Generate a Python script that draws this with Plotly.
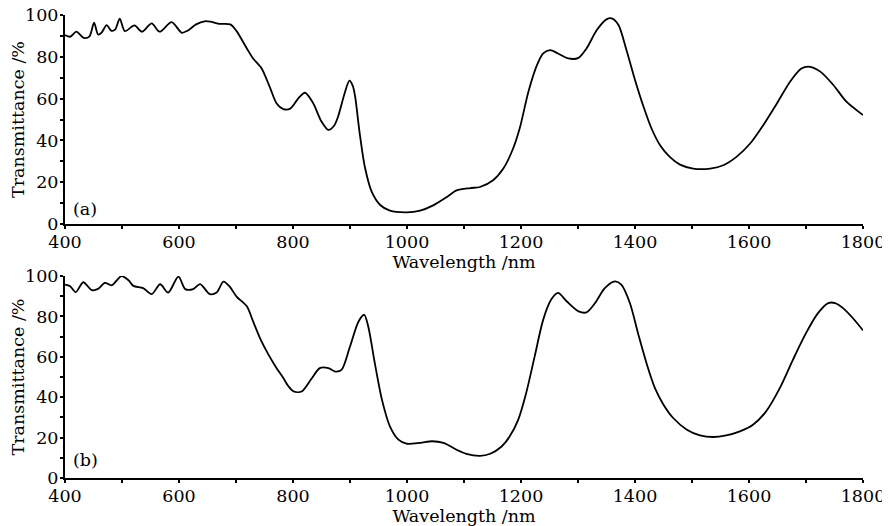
import plotly.graph_objects as go

# Panel (a)
wl_a = [400, 409, 420, 433, 443, 451, 458, 464, 473, 481, 488, 496, 505, 522, 535, 552, 566, 587, 605,
        615, 630, 645, 655, 670, 690, 701, 719, 730, 745, 760, 771, 783, 795, 809, 821, 835, 850, 862,
        872, 879, 890, 899, 905, 909, 917, 926, 938, 953, 970, 999, 1023, 1046, 1070, 1087, 1111, 1128,
        1151, 1169, 1186, 1198, 1213, 1228, 1239, 1251, 1265, 1283, 1301, 1315, 1333, 1350, 1359, 1371,
        1385, 1400, 1415, 1429, 1444, 1461, 1479, 1502, 1532, 1555, 1578, 1602, 1625, 1649, 1672, 1692,
        1707, 1725, 1748, 1771, 1800]
tr_a = [90.4, 89.6, 92.0, 89.0, 89.8, 96.3, 90.7, 91.5, 95.2, 92.5, 93.0, 98.2, 92.3, 95.0, 92.0, 96.0,
        92.0, 96.6, 91.5, 92.5, 95.5, 97.0, 96.8, 95.8, 95.5, 92.3, 84.0, 79.2, 74.4, 65.0, 57.8, 55.0,
        55.2, 60.0, 62.8, 58.0, 49.0, 45.0, 47.0, 51.3, 62.0, 68.6, 66.0, 61.0, 43.4, 27.4, 15.5, 9.1,
        6.4, 5.6, 6.4, 8.9, 12.9, 16.1, 17.2, 17.7, 20.9, 26.5, 36.0, 46.0, 63.3, 76.0, 81.6, 83.2, 81.6,
        79.2, 79.5, 84.0, 92.8, 97.9, 98.4, 95.2, 83.2, 68.9, 56.1, 45.7, 37.7, 32.1, 28.4, 26.5, 26.5,
        28.1, 32.1, 38.5, 47.3, 57.7, 68.1, 74.4, 75.2, 72.9, 66.5, 58.5, 52.1]

# Panel (b)
wl_b = [400, 409, 419, 432, 447, 458, 470, 482, 499, 511, 520, 537, 552, 567, 581, 599, 611, 625, 637,
        654, 666, 678, 689, 701, 719, 730, 742, 757, 771, 783, 792, 801, 815, 833, 847, 862, 874, 885,
        900, 915, 925, 932, 944, 956, 970, 985, 999, 1023, 1044, 1064, 1087, 1104, 1128, 1146, 1166,
        1180, 1195, 1209, 1224, 1239, 1253, 1265, 1280, 1301, 1315, 1330, 1347, 1365, 1376, 1391, 1406,
        1421, 1435, 1450, 1467, 1491, 1514, 1537, 1560, 1584, 1607, 1630, 1654, 1677, 1700, 1721, 1739,
        1751, 1765, 1782, 1800]
tr_b = [95.7, 94.9, 92.0, 96.9, 93.0, 93.6, 96.6, 95.4, 100.0, 98.0, 95.1, 94.0, 91.0, 95.9, 91.8, 99.7,
        93.5, 93.5, 96.0, 91.0, 91.8, 97.2, 94.7, 89.8, 85.0, 77.5, 69.3, 61.1, 54.5, 49.5, 45.4, 42.9,
        42.8, 49.4, 54.4, 54.4, 52.7, 53.5, 65.1, 77.5, 80.8, 75.0, 56.1, 38.8, 25.6, 19.0, 17.0, 17.4,
        18.2, 17.4, 14.0, 12.0, 11.0, 12.0, 15.6, 20.5, 28.8, 42.0, 60.2, 78.4, 88.3, 91.6, 87.5, 82.5,
        82.0, 86.6, 94.0, 97.3, 95.7, 86.6, 70.9, 56.1, 44.5, 36.3, 29.7, 23.9, 21.1, 20.3, 21.1, 23.1,
        26.4, 33.0, 44.5, 58.5, 71.7, 81.6, 86.6, 86.6, 84.1, 79.2, 73.1]

x_ticks = [400, 600, 800, 1000, 1200, 1400, 1600, 1800]
y_ticks = [0, 20, 40, 60, 80, 100]
panel_labels = ["(a)", "(b)"]
x_title = "Wavelength /nm"
y_title = "Transmittance /%"

FONT = "DejaVu Serif"
line_style = dict(color="black", width=1.8, shape="spline", smoothing=0.8)

fig = go.Figure()
fig.add_trace(go.Scatter(x=wl_a, y=tr_a, mode="lines", line=line_style, xaxis="x", yaxis="y",
                         showlegend=False, hoverinfo="skip"))
fig.add_trace(go.Scatter(x=wl_b, y=tr_b, mode="lines", line=line_style, xaxis="x2", yaxis="y2",
                         showlegend=False, hoverinfo="skip"))

tickfont = dict(family=FONT, size=17.5, color="black")
titlefont = dict(family=FONT, size=17.5, color="black")

def xax(anchor, inside=False):
    d = dict(anchor=anchor, range=[400, 1800], tickmode="array", tickvals=x_ticks,
             ticks="inside" if inside else "outside", ticklen=3, tickwidth=1.5, tickcolor="black",
             minor=dict(dtick=100, tick0=400, ticks="inside" if inside else "outside",
                        ticklen=3, tickwidth=1.5, tickcolor="black"),
             showgrid=False, zeroline=False, tickfont=tickfont, fixedrange=True,
             automargin=False, ticklabelstandoff=-2, ticklabeloverflow="allow")
    if inside:
        d.update(showline=False, showticklabels=False)
    else:
        d.update(showline=True, linewidth=2, linecolor="black",
                 title=dict(text=x_title, font=titlefont, standoff=0))
    return d

def yax(anchor, domain, inside=False):
    d = dict(anchor=anchor, domain=domain, range=[0, 100], tickmode="array", tickvals=y_ticks,
             ticks="inside" if inside else "outside", ticklen=3, tickwidth=1.5, tickcolor="black",
             minor=dict(dtick=10, tick0=0, ticks="inside" if inside else "outside",
                        ticklen=3, tickwidth=1.5, tickcolor="black"),
             showgrid=False, zeroline=False, tickfont=tickfont, fixedrange=True,
             automargin=False, ticklabelstandoff=-2, ticklabeloverflow="allow")
    if inside:
        d.update(showline=False, showticklabels=False)
    else:
        d.update(showline=True, linewidth=2, linecolor="black",
                 title=dict(text=y_title, font=titlefont, standoff=0))
    return d

# page body has an 8px default margin, so the figure is sized to fit inside 890x526
top_dom = [0.5486, 1.0]
bot_dom = [0.0, 0.4363]

xa1 = xax("y"); xa2 = xax("y2")
ya1 = yax("x", top_dom); ya2 = yax("x2", bot_dom)
xa3 = xax("y", inside=True); xa3["overlaying"] = "x"
xa4 = xax("y2", inside=True); xa4["overlaying"] = "x2"
ya3 = yax("x", top_dom, inside=True); ya3["overlaying"] = "y"
ya4 = yax("x2", bot_dom, inside=True); ya4["overlaying"] = "y2"

fig.update_layout(
    width=882, height=518,
    margin=dict(l=57, r=27, t=7, b=48),
    paper_bgcolor="white", plot_bgcolor="rgba(0,0,0,0)",
    xaxis=xa1, yaxis=ya1, xaxis2=xa2, yaxis2=ya2,
    xaxis3=xa3, xaxis4=xa4, yaxis3=ya3, yaxis4=ya4,
    font=dict(family=FONT, color="black"),
    annotations=[
        dict(text=panel_labels[0], x=411, y=7.2, xref="x", yref="y", xanchor="left", yanchor="middle",
             showarrow=False, font=titlefont),
        dict(text=panel_labels[1], x=411, y=8.9, xref="x2", yref="y2", xanchor="left", yanchor="middle",
             showarrow=False, font=titlefont),
    ],
)

fig.write_html("out.html")
